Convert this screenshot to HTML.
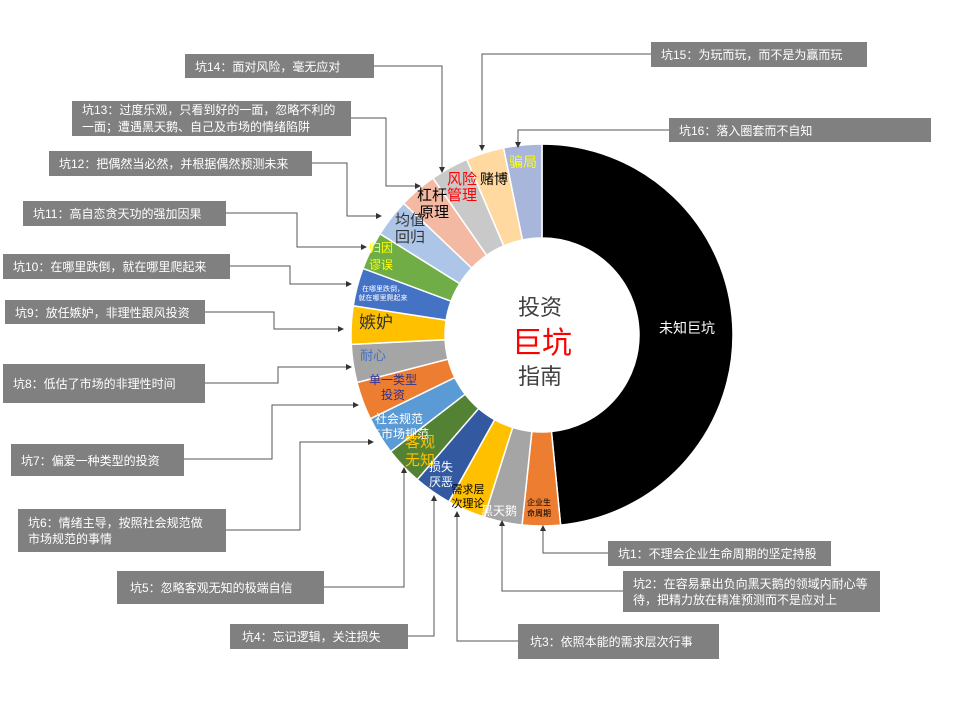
<!DOCTYPE html>
<html><head><meta charset="utf-8">
<style>
html,body{margin:0;padding:0;background:#fff;}
svg{display:block;font-family:"Liberation Sans","Noto Sans CJK SC",sans-serif;}
</style></head>
<body>
<svg id="s" width="960" height="720" viewBox="0 0 960 720" xmlns="http://www.w3.org/2000/svg">
<defs>
<marker id="ar" markerWidth="6" markerHeight="6" refX="5" refY="3" orient="auto" markerUnits="userSpaceOnUse">
<path d="M0,0 L6,3 L0,6 z" fill="#333"/></marker>
</defs>
<g id="slices"></g>
<g fill="#808080">
<rect x="185" y="54" width="189" height="24"/>
<rect x="72" y="101" width="279" height="35"/>
<rect x="49" y="151" width="263" height="25"/>
<rect x="23" y="201" width="203" height="25"/>
<rect x="3" y="254" width="227" height="25"/>
<rect x="5" y="300" width="200" height="24"/>
<rect x="3" y="364" width="202" height="39"/>
<rect x="11" y="444" width="173" height="32"/>
<rect x="18" y="509" width="208" height="43"/>
<rect x="117" y="571" width="207" height="33"/>
<rect x="230" y="624" width="178" height="25"/>
<rect x="518" y="624" width="201" height="35"/>
<rect x="623" y="571" width="257" height="41"/>
<rect x="608" y="541" width="223" height="25"/>
<rect x="651" y="42" width="216" height="25"/>
<rect x="669" y="118" width="262" height="24"/>
</g>
<g fill="none" stroke="#555" stroke-width="1" marker-end="url(#ar)">
<polyline points="374,66 442,66 442,172"/>
<polyline points="351,118 386,118 386,186 420,186"/>
<polyline points="312,163 347,163 347,216 381,216"/>
<polyline points="226,213 297,213 297,247 366,247"/>
<polyline points="230,266 290,266 290,284 351,284"/>
<polyline points="205,312 274,312 274,329 343,329"/>
<polyline points="205,383 278,383 278,367 351,367"/>
<polyline points="184,459 272,459 272,405 358,405"/>
<polyline points="226,530 300,530 300,442 373,442"/>
<polyline points="324,587 404,587 404,468"/>
<polyline points="408,636 434,636 434,496"/>
<polyline points="518,641 457,641 457,512"/>
<polyline points="623,591 502,591 502,521"/>
<polyline points="608,553 543,553 543,526"/>
<polyline points="651,54 482,54 482,150"/>
<polyline points="669,130 518,130 518,147"/>
</g>
<g fill="#fff" font-size="12">
<text x="195" y="71">坑14：面对风险，毫无应对</text>
<text x="82" y="114">坑13：过度乐观，只看到好的一面，忽略不利的</text>
<text x="82" y="131">一面；遭遇黑天鹅、自己及市场的情绪陷阱</text>
<text x="59" y="168">坑12：把偶然当必然，并根据偶然预测未来</text>
<text x="33" y="218">坑11：高自恋贪天功的强加因果</text>
<text x="13" y="271">坑10：在哪里跌倒，就在哪里爬起来</text>
<text x="15" y="317">坑9：放任嫉妒，非理性跟风投资</text>
<text x="13" y="388">坑8：低估了市场的非理性时间</text>
<text x="21" y="465">坑7：偏爱一种类型的投资</text>
<text x="28" y="527">坑6：情绪主导，按照社会规范做</text>
<text x="28" y="543">市场规范的事情</text>
<text x="130" y="592">坑5：忽略客观无知的极端自信</text>
<text x="242" y="641">坑4：忘记逻辑，关注损失</text>
<text x="530" y="646">坑3：依照本能的需求层次行事</text>
<text x="633" y="588">坑2：在容易暴出负向黑天鹅的领域内耐心等</text>
<text x="633" y="604">待，把精力放在精准预测而不是应对上</text>
<text x="618" y="558">坑1：不理会企业生命周期的坚定持股</text>
<text x="661" y="59">坑15：为玩而玩，而不是为赢而玩</text>
<text x="679" y="135">坑16：落入圈套而不自知</text>
</g>
<g text-anchor="middle">
<text x="687" y="333" fill="#fff" font-size="14">未知巨坑</text>
<text x="523" y="167" fill="#ffff00" font-size="14">骗局</text>
<text x="494" y="184" fill="#000" font-size="14">赌博</text>
<text x="432" y="200" fill="#000" font-size="15">杠杆</text>
<text x="434" y="217" fill="#000" font-size="15">原理</text>
<text x="462" y="184" fill="#ff0000" font-size="15">风险</text>
<text x="462" y="200" fill="#ff0000" font-size="15">管理</text>
<text x="410" y="225" fill="#333" font-size="15">均值</text>
<text x="410" y="242" fill="#333" font-size="15">回归</text>
<text x="381" y="252" fill="#ffff00" font-size="12">归因</text>
<text x="381" y="269" fill="#ffff00" font-size="12">谬误</text>
<text x="383" y="291" fill="#fff" font-size="7">在哪里跌倒，</text>
<text x="383" y="300" fill="#fff" font-size="7">就在哪里爬起来</text>
<text x="376" y="328" fill="#333" font-size="17">嫉妒</text>
<text x="373" y="360" fill="#4472c4" font-size="13">耐心</text>
<text x="393" y="384" fill="#2e3192" font-size="12">单一类型</text>
<text x="393" y="399" fill="#2e3192" font-size="12">投资</text>
<text x="399" y="423" fill="#fff" font-size="12">社会规范</text>
<text x="399" y="438" fill="#fff" font-size="12">与市场规范</text>
<text x="420" y="447" fill="#ffc000" font-size="15">客观</text>
<text x="420" y="465" fill="#ffc000" font-size="15">无知</text>
<text x="441" y="471" fill="#fff" font-size="12">损失</text>
<text x="441" y="486" fill="#fff" font-size="12">厌恶</text>
<text x="468" y="493" fill="#000" font-size="11">需求层</text>
<text x="468" y="507" fill="#000" font-size="11">次理论</text>
<text x="499" y="515" fill="#fff" font-size="12">黑天鹅</text>
<text x="539" y="505" fill="#000" font-size="8">企业生</text>
<text x="539" y="516" fill="#000" font-size="8">命周期</text>
<text x="540" y="315" fill="#404040" font-size="22">投资</text>
<text x="542" y="353" fill="#ff0000" font-size="30">巨坑</text>
<text x="540" y="384" fill="#404040" font-size="22">指南</text>
</g>
</svg>
<script>
(function(){
var cx=542,cy=335,R=191,r=97,g=document.getElementById('slices');
function pt(a,rad){var t=a*Math.PI/180;return [cx+rad*Math.sin(t),cy-rad*Math.cos(t)];}
function arc(a0,a1,fill){
 var p0=pt(a0,R),p1=pt(a1,R),q1=pt(a1,r),q0=pt(a0,r),lg=(a1-a0)>180?1:0;
 var d='M'+p0+' A'+R+','+R+' 0 '+lg+' 1 '+p1+' L'+q1+' A'+r+','+r+' 0 '+lg+' 0 '+q0+' Z';
 var e=document.createElementNS('http://www.w3.org/2000/svg','path');
 e.setAttribute('d',d);e.setAttribute('fill',fill);e.setAttribute('stroke','#fff');e.setAttribute('stroke-width','1.5');
 g.appendChild(e);}
arc(0,174.4,'#000');
var c=['#ED7D31','#A5A5A5','#FFC000','#335AA0','#548235','#5B9BD5','#ED7D31','#A5A5A5','#FFC000','#4472C4','#70AD47','#ADC6E8','#F4B9A3','#C9C9C9','#FFD9A0','#A9B6DC'];
for(var i=0;i<16;i++){arc(174.4+11.6*i,174.4+11.6*(i+1),c[i]);}
})();
</script>
</body></html>
